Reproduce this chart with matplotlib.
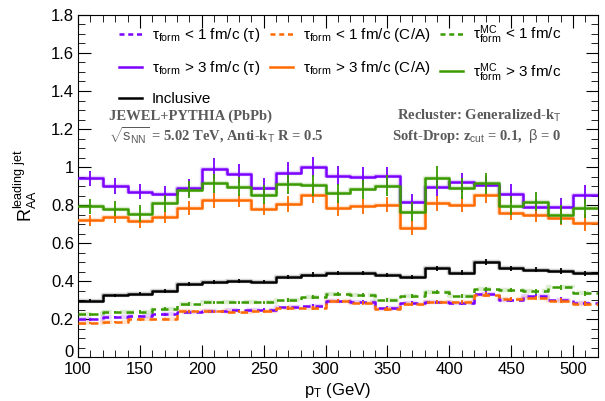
import numpy as np
import matplotlib
matplotlib.use("Agg")
import matplotlib.pyplot as plt
from matplotlib.lines import Line2D
from matplotlib.ticker import MultipleLocator

# pT binning (GeV)
edges = np.arange(100, 521, 20)
centers = 0.5 * (edges[:-1] + edges[1:])

# tau_form > 3 fm/c
tau_gt3 = [0.94, 0.90, 0.87, 0.86, 0.89, 0.99, 0.965, 0.89, 0.97, 1.00, 0.955,
           0.948, 0.952, 0.814, 0.897, 0.919, 0.905, 0.859, 0.788, 0.788, 0.853]
ca_gt3 = [0.72, 0.736, 0.716, 0.738, 0.784, 0.824, 0.824, 0.78, 0.805, 0.853, 0.784,
          0.793, 0.802, 0.681, 0.81, 0.802, 0.853, 0.759, 0.75, 0.733, 0.707]
mc_gt3 = [0.793, 0.78, 0.753, 0.81, 0.88, 0.914, 0.897, 0.853, 0.909, 0.905, 0.862,
          0.883, 0.902, 0.764, 0.943, 0.888, 0.914, 0.797, 0.816, 0.75, 0.784]
inclusive = [0.297, 0.324, 0.333, 0.348, 0.383, 0.393, 0.402, 0.397, 0.422, 0.434, 0.443,
             0.443, 0.431, 0.422, 0.466, 0.443, 0.50, 0.466, 0.46, 0.452, 0.44]
# tau_form < 1 fm/c
tau_lt1 = [0.198, 0.212, 0.216, 0.224, 0.238, 0.241, 0.245, 0.25, 0.262, 0.27, 0.293,
           0.288, 0.259, 0.284, 0.288, 0.284, 0.333, 0.302, 0.322, 0.302, 0.284]
ca_lt1 = [0.178, 0.184, 0.198, 0.20, 0.241, 0.241, 0.238, 0.241, 0.259, 0.259, 0.293,
          0.284, 0.253, 0.281, 0.288, 0.288, 0.328, 0.305, 0.31, 0.297, 0.281]
mc_lt1 = [0.224, 0.236, 0.238, 0.255, 0.279, 0.288, 0.288, 0.288, 0.30, 0.316, 0.333,
          0.328, 0.302, 0.322, 0.34, 0.319, 0.357, 0.353, 0.345, 0.366, 0.336]

# statistical errors (approximate)
err_tau_gt3 = [0.04, 0.04, 0.04, 0.04, 0.045, 0.055, 0.05, 0.05, 0.055, 0.055, 0.05,
               0.05, 0.05, 0.045, 0.05, 0.05, 0.05, 0.05, 0.045, 0.05, 0.05]
err_ca_gt3 = [0.03, 0.03, 0.035, 0.035, 0.035, 0.04, 0.035, 0.035, 0.04, 0.04, 0.04,
              0.04, 0.04, 0.04, 0.04, 0.04, 0.04, 0.04, 0.04, 0.04, 0.045]
err_mc_gt3 = [0.04, 0.04, 0.045, 0.045, 0.045, 0.05, 0.05, 0.05, 0.05, 0.055, 0.05,
              0.05, 0.055, 0.05, 0.06, 0.055, 0.055, 0.05, 0.05, 0.05, 0.05]
err_incl = [0.008, 0.008, 0.009, 0.009, 0.01, 0.01, 0.01, 0.01, 0.011, 0.011, 0.012,
            0.012, 0.012, 0.012, 0.014, 0.014, 0.016, 0.014, 0.014, 0.015, 0.015]
err_lt1 = [0.006, 0.006, 0.007, 0.007, 0.008, 0.008, 0.008, 0.008, 0.009, 0.009, 0.01,
           0.01, 0.01, 0.01, 0.011, 0.011, 0.012, 0.012, 0.012, 0.013, 0.013]

purple = "#7a00ff"
orange = "#ff6a00"
green = "#3a9a00"

plt.rcParams["font.family"] = ["Liberation Sans", "DejaVu Sans"]
plt.rcParams["mathtext.fontset"] = "custom"
plt.rcParams["mathtext.rm"] = "Liberation Sans"
plt.rcParams["mathtext.it"] = "Liberation Sans"

fig = plt.figure(figsize=(6.05, 4.01), dpi=100)
ax = fig.add_axes([0.129, 0.1097, 0.859, 0.8529])


def draw_hist(vals, errs, color, ls):
    vals = np.asarray(vals)
    step_y = np.append(vals, vals[-1])
    ax.step(edges, step_y, where="post", color=color, lw=3.2, alpha=0.18,
            ls=ls, zorder=2)
    ax.step(edges, step_y, where="post", color=color, lw=1.8, ls=ls, zorder=3)
    ax.errorbar(centers, vals, yerr=errs, fmt="none", ecolor=color,
                elinewidth=1.3, capsize=0, zorder=3)


draw_hist(tau_lt1, err_lt1, purple, (0, (3, 2)))
draw_hist(ca_lt1, err_lt1, orange, (0, (3, 2)))
draw_hist(mc_lt1, err_lt1, green, (0, (3, 2)))
draw_hist(inclusive, err_incl, "black", "-")
draw_hist(tau_gt3, err_tau_gt3, purple, "-")
draw_hist(ca_gt3, err_ca_gt3, orange, "-")
draw_hist(mc_gt3, err_mc_gt3, green, "-")

ax.set_xlim(100, 520)
ax.set_ylim(0, 1.8)
ax.xaxis.set_major_locator(MultipleLocator(50))
ax.xaxis.set_minor_locator(MultipleLocator(10))
ax.yaxis.set_minor_locator(MultipleLocator(0.05))
ax.tick_params(which="both", direction="in", top=True, right=True, labelsize=12)
ax.tick_params(axis="y", pad=3)
ax.tick_params(which="major", length=9)
ax.tick_params(which="minor", length=5)
ax.set_yticks([0, 0.2, 0.4, 0.6, 0.8, 1, 1.2, 1.4, 1.6, 1.8])
ax.set_yticklabels(["0", "0.2", "0.4", "0.6", "0.8", "1", "1.2", "1.4", "1.6", "1.8"])
ax.get_yticklabels()[0].set_va("baseline")

ax.set_xlabel(r"p$_{\rm T}$ (GeV)", fontsize=12, labelpad=0)
ax.xaxis.set_label_coords(0.5, -0.07)
ax.set_ylabel(r"R$_{\rm AA}^{\rm leading\ jet}$", fontsize=13)
ax.yaxis.set_label_coords(-0.075, 0.5)

handles = [
    Line2D([], [], color=purple, lw=1.8, ls=(0, (2, 1.5))),
    Line2D([], [], color=purple, lw=1.8),
    Line2D([], [], color="black", lw=1.8),
    Line2D([], [], color=orange, lw=1.8, ls=(0, (2, 1.5))),
    Line2D([], [], color=orange, lw=1.8),
    Line2D([], [], color=green, lw=1.8, ls=(0, (2, 1.5))),
    Line2D([], [], color=green, lw=1.8),
]
labels = [
    r"$\tau_{\rm form}$ < 1 fm/c ($\tau$)",
    r"$\tau_{\rm form}$ > 3 fm/c ($\tau$)",
    "Inclusive",
    r"$\tau_{\rm form}$ < 1 fm/c (C/A)",
    r"$\tau_{\rm form}$ > 3 fm/c (C/A)",
    r"$\tau_{\rm form}^{\rm MC}$ < 1 fm/c",
    r"$\tau_{\rm form}^{\rm MC}$ > 3 fm/c",
]
ax.legend(handles, labels, ncol=3, frameon=False, fontsize=11,
          loc="upper left", bbox_to_anchor=(0.052, 1.015),
          handlelength=1.5, handletextpad=0.65, columnspacing=0.65,
          labelspacing=0.98)

txt = dict(family="Liberation Serif", fontweight="bold", color="#5a5a5a",
           fontsize=10.5)
ax.text(0.06, 0.705, "JEWEL+PYTHIA (PbPb)", transform=ax.transAxes,
        ha="left", va="center", **txt)
ax.text(0.06, 0.645,
        r"$\sqrt{\mathrm{s}_{\mathrm{NN}}}$ = 5.02 TeV, Anti-k$_{\mathrm{T}}$ R = 0.5",
        transform=ax.transAxes, ha="left", va="center", **txt)
ax.text(0.93, 0.705, r"Recluster: Generalized-k$_{\mathrm{T}}$",
        transform=ax.transAxes, ha="right", va="center", **txt)
ax.text(0.93, 0.645, r"Soft-Drop: z$_{\mathrm{cut}}$ = 0.1,  $\beta$ = 0",
        transform=ax.transAxes, ha="right", va="center", **txt)

fig.savefig("out.png", dpi=100)
